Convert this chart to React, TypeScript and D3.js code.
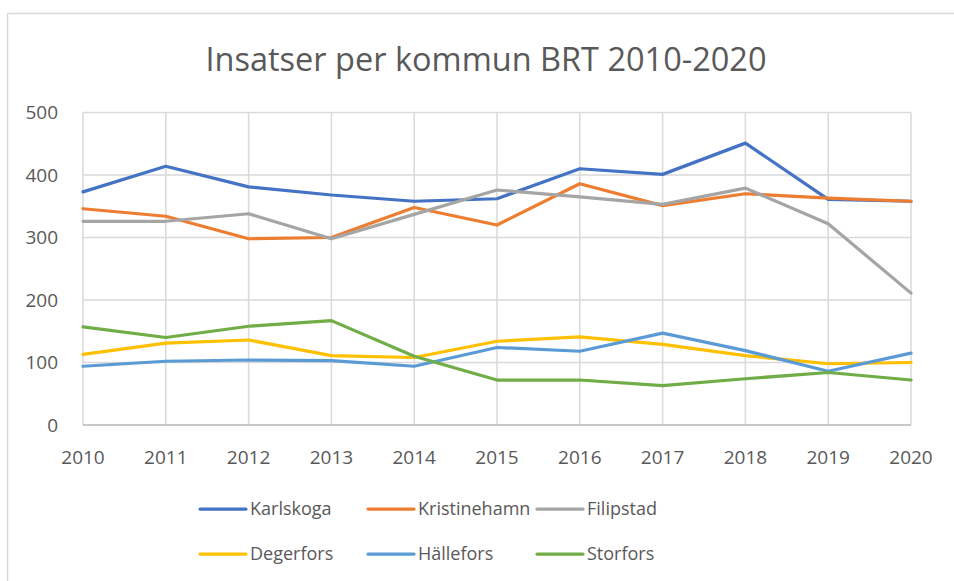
import React, { useRef, useEffect } from "react";
import * as d3 from "d3";

const years = [2010, 2011, 2012, 2013, 2014, 2015, 2016, 2017, 2018, 2019, 2020];
const yTicks = [0, 100, 200, 300, 400, 500];

const karlskoga = [373, 414, 381, 368, 358, 362, 410, 401, 451, 361, 358];
const kristinehamn = [346, 334, 298, 300, 348, 320, 386, 351, 370, 363, 358];
const filipstad = [326, 326, 338, 298, 337, 376, 365, 353, 379, 322, 211];
const degerfors = [113, 131, 136, 111, 108, 134, 141, 129, 111, 98, 100];
const hallefors = [94, 102, 104, 103, 94, 124, 118, 147, 119, 86, 115];
const storfors = [157, 140, 158, 167, 110, 72, 72, 63, 74, 84, 72];

const seriesNames = ["Karlskoga", "Kristinehamn", "Filipstad", "Degerfors", "Hällefors", "Storfors"];
const seriesColors = ["#4472C4", "#ED7D31", "#A5A5A5", "#FFC000", "#5B9BD5", "#70AD47"];

const W = 954, H = 581;
const FONT = "'Open Sans', sans-serif";
const TEXT = "#595959";

export default function App() {
  const svgRef = useRef<SVGSVGElement>(null);

  useEffect(() => {
    const values = [karlskoga, kristinehamn, filipstad, degerfors, hallefors, storfors];
    const svg = d3.select(svgRef.current);
    svg.selectAll("*").remove();

    svg.append("rect")
      .attr("x", 7.5).attr("y", 13.5)
      .attr("width", 980).attr("height", 600)
      .attr("fill", "#fff").attr("stroke", "#D9D9D9").attr("stroke-width", 1.5);

    const x = d3.scaleLinear().domain([2010, 2020]).range([83, 911]);
    const y = d3.scaleLinear().domain([0, 500]).range([425, 112.5]);

    svg.append("text")
      .attr("x", 486).attr("y", 71)
      .attr("text-anchor", "middle")
      .attr("font-family", FONT).attr("font-size", 32.5)
      .attr("fill", TEXT)
      .text("Insatser per kommun BRT 2010-2020");

    // gridlines
    const grid = svg.append("g").attr("stroke", "#D9D9D9").attr("stroke-width", 1.5);
    grid.selectAll("line.h").data(yTicks).join("line")
      .attr("x1", x(2010)).attr("x2", x(2020))
      .attr("y1", d => y(d)).attr("y2", d => y(d));
    grid.selectAll("line.v").data(years).join("line")
      .attr("x1", d => x(d)).attr("x2", d => x(d))
      .attr("y1", y(500)).attr("y2", y(0));
    svg.append("line")
      .attr("x1", x(2010)).attr("x2", x(2020))
      .attr("y1", y(0)).attr("y2", y(0))
      .attr("stroke", "#BFBFBF").attr("stroke-width", 1.5);

    // y labels
    svg.append("g").selectAll("text").data(yTicks).join("text")
      .attr("x", 58).attr("y", d => y(d))
      .attr("dy", "0.35em")
      .attr("text-anchor", "end")
      .attr("font-family", FONT).attr("font-size", 19)
      .attr("fill", TEXT)
      .text(d => d);

    // x labels
    svg.append("g").selectAll("text").data(years).join("text")
      .attr("x", d => x(d)).attr("y", 464)
      .attr("text-anchor", "middle")
      .attr("font-family", FONT).attr("font-size", 19)
      .attr("fill", TEXT)
      .text(d => d);

    const line = d3.line<number>()
      .x((_, i) => x(years[i]))
      .y(d => y(d));

    svg.append("g").selectAll("path").data(values).join("path")
      .attr("d", d => line(d))
      .attr("fill", "none")
      .attr("stroke", (_, i) => seriesColors[i])
      .attr("stroke-width", 3.25)
      .attr("stroke-linejoin", "round")
      .attr("stroke-linecap", "round");

    // legend
    const colX = [200, 368, 537];
    const rowY = [509, 554];
    const leg = svg.append("g").selectAll("g").data(seriesNames).join("g")
      .attr("transform", (_, i) => `translate(${colX[i % 3]},${rowY[Math.floor(i / 3)]})`);
    leg.append("line")
      .attr("x1", 0).attr("x2", 46)
      .attr("stroke", (_, i) => seriesColors[i])
      .attr("stroke-width", 3.25)
      .attr("stroke-linecap", "round");
    leg.append("text")
      .attr("x", 50).attr("dy", "0.35em")
      .attr("font-family", FONT).attr("font-size", 18)
      .attr("fill", TEXT)
      .text(d => d);
  }, []);

  return (
    <svg ref={svgRef} width={W} height={H}
      style={{ position: "absolute", left: 0, top: 0, background: "#fff" }} />
  );
}
